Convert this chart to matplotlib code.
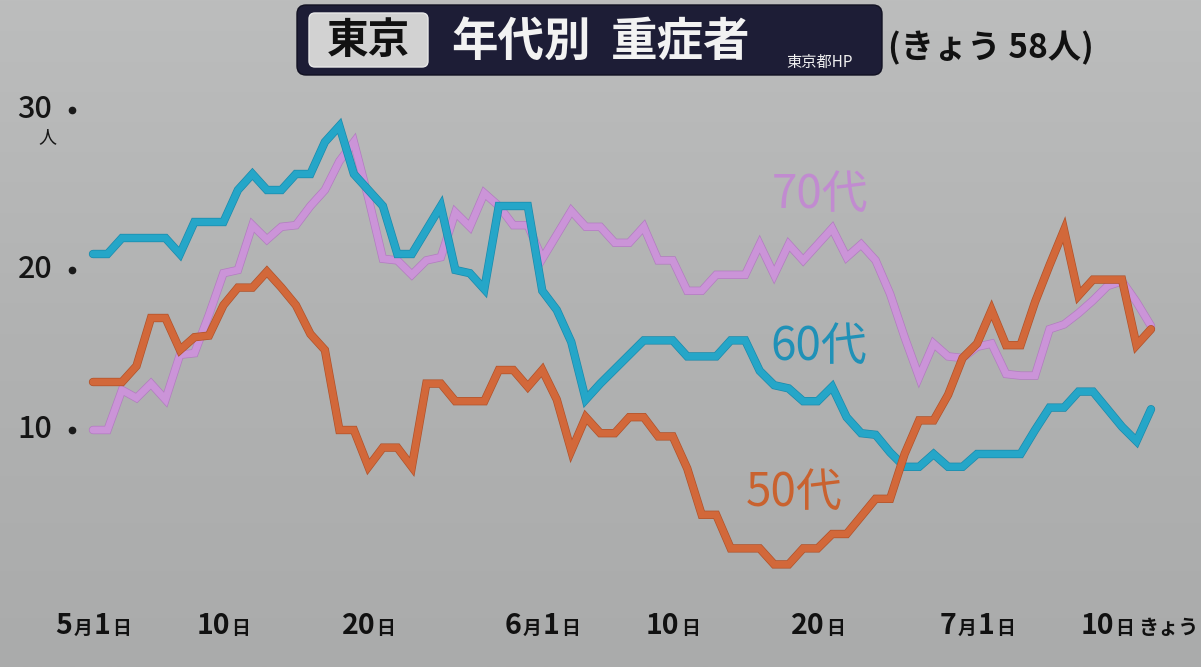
import matplotlib
matplotlib.use("Agg")
import matplotlib.pyplot as plt
import numpy as np
import matplotlib.patheffects as pe
import matplotlib.transforms as mtransforms
from matplotlib.patches import FancyBboxPatch
from matplotlib.offsetbox import TextArea, HPacker, AnnotationBbox
from matplotlib.colors import LinearSegmentedColormap

plt.rcParams['font.family'] = ['Noto Sans CJK JP', 'DejaVu Sans']

# ---- data: days since 5/1 (5/1 .. 7/13) ----
days = list(range(74))

age50 = [13, 13, 13, 14, 17, 17, 15, 15.8, 15.9, 17.8,
         18.9, 18.9, 19.9, 18.9, 17.8, 16, 15, 10, 10, 7.7,
         8.9, 8.9, 7.7, 12.9, 12.9, 11.8, 11.8, 11.8, 13.75, 13.75,
         12.7, 13.75, 11.9, 8.7, 10.8, 9.8, 9.8, 10.8, 10.8, 9.6,
         9.6, 7.6, 4.7, 4.7, 2.6, 2.6, 2.6, 1.6, 1.6, 2.6,
         2.6, 3.5, 3.5, 4.6, 5.7, 5.7, 8.5, 10.6, 10.6, 12.2,
         14.5, 15.4, 17.5, 15.3, 15.3, 18, 20.3, 22.5, 18.4, 19.4,
         19.4, 19.4, 15.3, 16.3]

age60 = [21, 21, 22, 22, 22, 22, 21, 23, 23, 23,
         25, 26, 25, 25, 26, 26, 28, 29, 26, 25,
         24, 21, 21, 22.5, 24, 20, 19.8, 18.8, 24, 24,
         24, 18.7, 17.5, 15.5, 11.9, 12.9, 13.8, 14.7, 15.6, 15.6,
         15.6, 14.6, 14.6, 14.6, 15.6, 15.6, 13.7, 12.8, 12.6, 11.8,
         11.8, 12.7, 10.8, 9.8, 9.7, 8.6, 7.7, 7.7, 8.5, 7.7,
         7.7, 8.5, 8.5, 8.5, 8.5, 10, 11.4, 11.4, 12.4, 12.4,
         11.3, 10.2, 9.3, 11.3]

age70 = [10, 10, 12.5, 12, 12.9, 11.9, 14.7, 14.8, 17.2, 19.8,
         20, 22.8, 21.9, 22.7, 22.8, 24, 25, 26.8, 28, 24.5,
         20.7, 20.6, 19.7, 20.6, 20.8, 23.6, 22.7, 24.8, 24, 22.8,
         22.8, 20.7, 22.2, 23.7, 22.7, 22.7, 21.7, 21.7, 22.7, 20.6,
         20.6, 18.7, 18.7, 19.7, 19.7, 19.7, 21.6, 19.7, 21.6, 20.6,
         21.6, 22.6, 20.8, 21.6, 20.6, 18.5, 15.8, 13.3, 15.4, 14.6,
         14.5, 15.2, 15.4, 13.5, 13.4, 13.4, 16.3, 16.6, 17.3, 18.1,
         19, 19.3, 18, 16.5]

tick_pos = [0, 9, 19, 31, 40, 50, 61, 70]
tick_labels = ["5月1日", "10日", "20日", "6月1日", "10日", "20日", "7月1日", "10日"]
y_ticks = [10, 20, 30]

series_names = ["70代", "60代", "50代"]
series_colors = ["#cb94d8", "#25a6c8", "#d2683a"]
series_edges = ["#b27cc0", "#1a8aab", "#b0522a"]
label_colors = ["#c18bd0", "#2091b7", "#c9622f"]

W, H = 1201, 667
fig = plt.figure(figsize=(W / 100, H / 100), dpi=100)

# background gradient
bg = fig.add_axes([0, 0, 1, 1], zorder=0)
cmap = LinearSegmentedColormap.from_list("bg", ["#bcbdbd", "#b1b2b2", "#aaabab"])
grad = np.linspace(0, 1, 256).reshape(-1, 1)
bg.imshow(grad, extent=[0, 1, 0, 1], aspect="auto", cmap=cmap, origin="upper")
bg.axis("off")

# main axes mapped on pixels: day0 -> x=93, day73 -> x=1151, 0 -> y=590, 30 -> y=110
L, R = 93 / W, 1151 / W
B, T = (H - 590) / H, (H - 110) / H
ax = fig.add_axes([L, B, R - L, T - B], zorder=2)
ax.set_xlim(0, 73)
ax.set_ylim(0, 30)
ax.patch.set_alpha(0)
for s in ax.spines.values():
    s.set_visible(False)
ax.set_xticks([])
ax.set_yticks([])

lw = 5.0
for vals, col, edge, z in [(age70, series_colors[0], series_edges[0], 3),
                           (age60, series_colors[1], series_edges[1], 4),
                           (age50, series_colors[2], series_edges[2], 5)]:
    ax.plot(days, vals, color=col, lw=lw, clip_on=False, zorder=z,
            solid_joinstyle="miter", solid_capstyle="round",
            path_effects=[pe.Stroke(linewidth=lw + 1.0, foreground=edge), pe.Normal()])

# series labels
ax.text(50.2, 24.7, series_names[0], color=label_colors[0], fontsize=33, ha="center", va="center")
ax.text(50.1, 15.2, series_names[1], color=label_colors[1], fontsize=33, ha="center", va="center")
ax.text(48.4, 6.1, series_names[2], color=label_colors[2], fontsize=33, ha="center", va="center")

# y labels with dots
px = 0.72  # points per pixel
dot_tr = mtransforms.offset_copy(ax.transData, fig=fig, x=-21 * px, y=0, units="points")
ax.plot([0] * len(y_ticks), y_ticks, "o", color="#1a1a1a", ms=4.5, transform=dot_tr, clip_on=False)
for v in y_ticks:
    ax.annotate(str(v), xy=(0, v), xytext=(-58 * px, 0), textcoords="offset points",
                ha="center", va="center", fontsize=22, fontweight="medium", color="#151515",
                annotation_clip=False)
ax.annotate("人", xy=(0, 30), xytext=(-46 * px, -27 * px), textcoords="offset points",
            ha="center", va="center", fontsize=13, color="#151515", annotation_clip=False)

# x labels: digits big, kanji small
def label_box(s):
    parts = []
    buf = ""
    for ch in s:
        if buf and (ch.isdigit() != buf[-1].isdigit()):
            parts.append(buf)
            buf = ""
        buf += ch
    parts.append(buf)
    children = []
    for p in parts:
        fs = 20.5 if p[0].isdigit() else 13.5
        children.append(TextArea(p, textprops=dict(fontsize=fs, fontweight="bold", color="#111111")))
    return HPacker(children=children, align="baseline", pad=0, sep=1)

for pos, lab in zip(tick_pos, tick_labels):
    ab = AnnotationBbox(label_box(lab), (pos, 0), xybox=(0, -36 * px), xycoords="data",
                        boxcoords="offset points", frameon=False, box_alignment=(0.5, 0.5),
                        annotation_clip=False)
    ax.add_artist(ab)
ax.annotate("きょう", xy=(73, 0), xytext=(17 * px, -37 * px), textcoords="offset points",
            ha="center", va="center", fontsize=14.5, fontweight="bold", color="#111111",
            annotation_clip=False)

# overlay in pixel coordinates for the title block
ov = fig.add_axes([0, 0, 1, 1], zorder=6)
ov.set_xlim(0, W)
ov.set_ylim(H, 0)
ov.axis("off")
ov.patch.set_alpha(0)
ov.add_patch(FancyBboxPatch((297, 5), 585, 70, boxstyle="round,pad=0,rounding_size=9",
                            fc="#1d1d36", ec="#111122", lw=1))
ov.add_patch(FancyBboxPatch((309, 13), 119, 54, boxstyle="round,pad=0,rounding_size=6",
                            fc="#d2d2d2", ec="#e8e8e8", lw=1))
ov.text(368.5, 41, "東京", fontsize=30, fontweight="bold", color="#111111", ha="center", va="center")
ov.text(451, 42, "年代別", fontsize=33.5, fontweight="bold", color="#f2f2f2", ha="left", va="center")
ov.text(611, 42, "重症者", fontsize=33.5, fontweight="bold", color="#f2f2f2", ha="left", va="center")
ov.text(820, 62, "東京都HP", fontsize=11, color="#f0f0f0", ha="center", va="center")
ov.text(991, 48, "(きょう 58人)", fontsize=24, fontweight="bold", color="#111111", ha="center", va="center")

fig.savefig("out.png", dpi=100)
